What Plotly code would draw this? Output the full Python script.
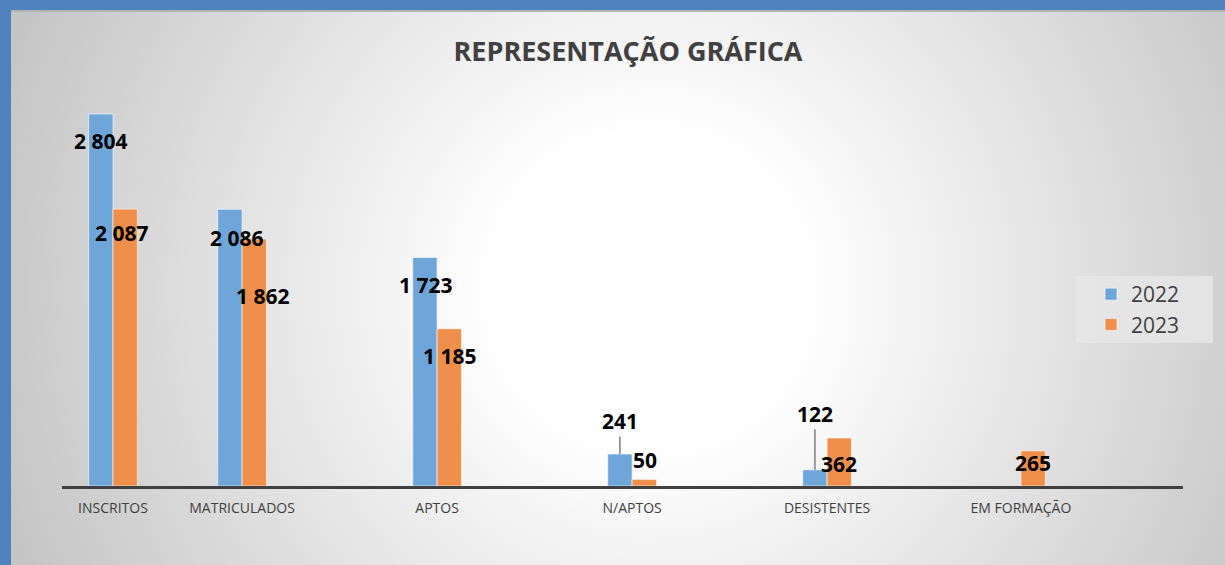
import base64
import plotly.graph_objects as go

# ---- data ----
categories = ["INSCRITOS", "MATRICULADOS", "APTOS", "N/APTOS", "DESISTENTES", "EM FORMAÇÃO"]
values_2022 = [2804, 2086, 1723, 241, 122, None]
values_2023 = [2087, 1862, 1185, 50, 362, 265]
series_names = ["2022", "2023"]

# ---- layout helpers (positions / styles) ----
W, H = 1225, 565
cat_pos = [0, 0.662, 1.662, 2.662, 3.662, 4.656]   # uneven category spacing as in source
bar_w = 0.125
offsets = [-bar_w, 0.0]
colors = ["#6fa6da", "#f08f4b"]

# label pixel shifts (xshift, yshift) relative to top-center of bar
shift_2022 = [(0, -27), (7, -29), (1, -28), None, None, None]
shift_2023 = [(-4, -24), (8, -57), (0, -27), (1, 19), (0, -26), (0, -12)]
leader_2022 = {3: -33, 4: -56}   # category index -> text offset for leader-line labels

svg = f"""<svg xmlns='http://www.w3.org/2000/svg' width='{W}' height='{H}' viewBox='0 0 {W} {H}'>
<defs><radialGradient id='g' gradientUnits='userSpaceOnUse' cx='650' cy='290' r='710'>
<stop offset='0' stop-color='#ffffff'/><stop offset='0.22' stop-color='#ffffff'/>
<stop offset='1' stop-color='#c2c2c2'/></radialGradient></defs>
<rect x='0' y='0' width='{W}' height='{H}' fill='url(#g)'/>
<rect x='0' y='10' width='{W}' height='2' fill='#b4b4b4'/>
<rect x='0' y='0' width='{W}' height='10' fill='#4f81bd'/>
<rect x='0' y='0' width='11' height='{H}' fill='#4f81bd'/>
<rect x='1076' y='276' width='137' height='67' fill='#e6e6e6' fill-opacity='0.85'/>
</svg>"""
bg_src = "data:image/svg+xml;base64," + base64.b64encode(svg.encode()).decode()

fig = go.Figure()
for name, vals, off, col in zip(series_names, [values_2022, values_2023], offsets, colors):
    fig.add_trace(go.Bar(
        name=name, x=cat_pos, y=vals, width=bar_w, offset=off,
        marker=dict(color=col, line=dict(color="rgba(255,255,255,0.6)", width=1)),
        hoverinfo="skip",
    ))

def fmt(v):
    return f"{v:,}".replace(",", " ")

annotations = []
for si, (vals, shifts) in enumerate([(values_2022, shift_2022), (values_2023, shift_2023)]):
    for ci, v in enumerate(vals):
        if v is None:
            continue
        xc = cat_pos[ci] + offsets[si] + bar_w / 2
        font = dict(family="Open Sans", size=21, color="#000000", weight="bold")
        if si == 0 and ci in leader_2022:
            annotations.append(dict(
                x=xc, y=v, xref="x", yref="y", text=fmt(v), font=font,
                showarrow=True, arrowhead=0, arrowwidth=1.5, arrowcolor="#7f7f7f",
                ax=0, ay=leader_2022[ci], standoff=0,
            ))
        else:
            dx, dy = shifts[ci]
            annotations.append(dict(
                x=xc, y=v, xref="x", yref="y", text=fmt(v), font=font,
                showarrow=False, xshift=dx, yshift=dy,
            ))

x_left, x_right, base_px = 62, 1183, 486
unit = 195.0
fig.update_layout(
    width=W, height=H,
    margin=dict(l=0, r=0, t=0, b=0),
    paper_bgcolor="rgba(0,0,0,0)", plot_bgcolor="rgba(0,0,0,0)",
    barmode="overlay",
    images=[dict(source=bg_src, xref="paper", yref="paper", x=0, y=1, sizex=1, sizey=1,
                 sizing="stretch", layer="below", xanchor="left", yanchor="top")],
    title=dict(text="<b>REPRESENTAÇÃO GRÁFICA</b>", x=628 / W, xanchor="center",
               y=1 - 52 / H, yanchor="middle",
               font=dict(family="Open Sans", size=27, color="#404040")),
    xaxis=dict(
        domain=[x_left / W, x_right / W],
        range=[-(113 - x_left) / unit, (x_right - 113) / unit],
        tickmode="array", tickvals=cat_pos, ticktext=categories,
        showline=True, linecolor="#404040", linewidth=3,
        showgrid=False, zeroline=False, ticks="",
        tickfont=dict(family="Open Sans", size=14, color="#404040"),
        ticklabelstandoff=7, fixedrange=True,
    ),
    yaxis=dict(
        domain=[(H - base_px) / H, (H - 88) / H],
        range=[0, 3000], visible=False, showgrid=False, zeroline=False, fixedrange=True,
    ),
    legend=dict(
        x=1091 / W, y=1 - 274 / H, xanchor="left", yanchor="top",
        bgcolor="rgba(0,0,0,0)", borderwidth=0,
        font=dict(family="Open Sans", size=21, color="#404040"),
        itemwidth=30,
    ),
    annotations=annotations,
    showlegend=True,
)

fig.write_html("out.html", config={"displayModeBar": False},
               post_script="document.body.style.margin='0';")
